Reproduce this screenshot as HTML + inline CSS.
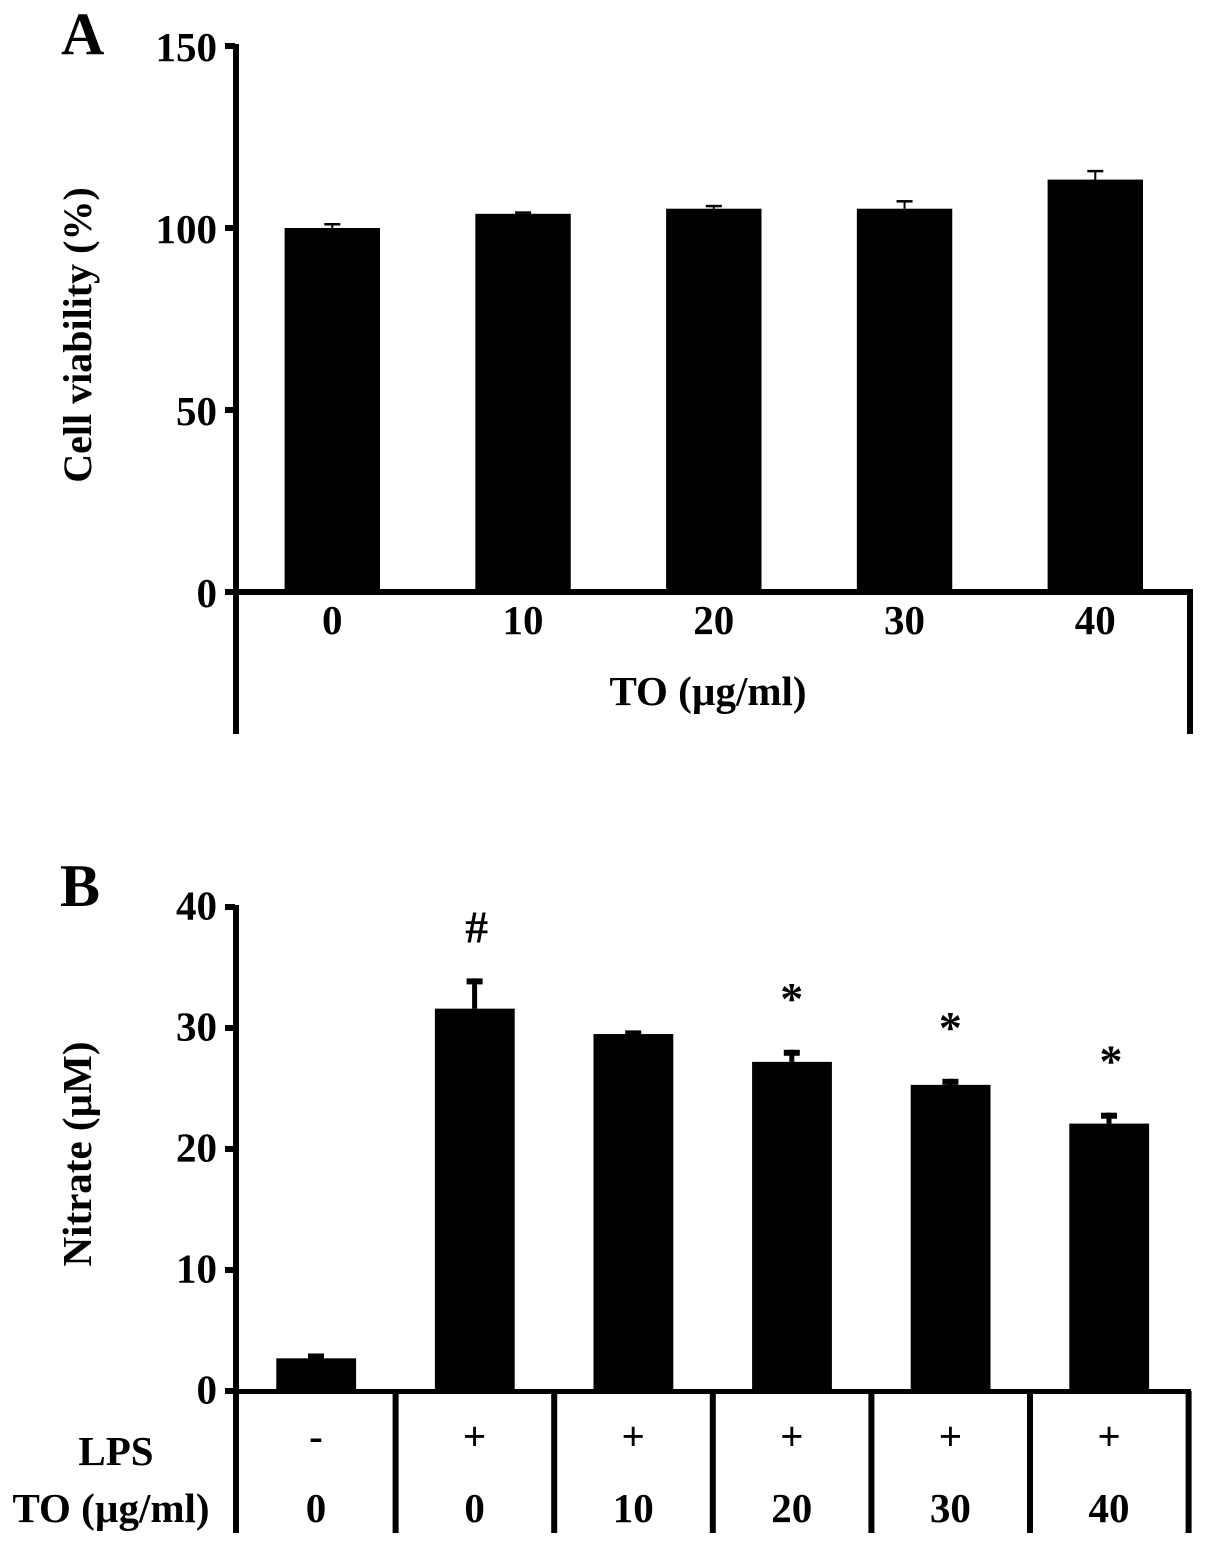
<!DOCTYPE html>
<html lang="en">
<head>
<meta charset="utf-8">
<title>Cell viability and nitrate bar charts</title>
<style>
html,body{margin:0;padding:0;background:#fff;}
svg{display:block;}
text{font-family:"Liberation Serif",serif;font-weight:bold;fill:#000;}
</style>
</head>
<body>
<svg id="figure" width="1205" height="1545" viewBox="0 0 1205 1545" xmlns="http://www.w3.org/2000/svg">
  <rect width="1205" height="1545" fill="#fff"/>
  <text x="61" y="54" font-size="60">A</text>
  <text transform="translate(91 335) rotate(-90)" text-anchor="middle" font-size="40">Cell viability (%)</text>
  <text x="708" y="705" text-anchor="middle" font-size="41">TO (µg/ml)</text>
  <text x="60" y="906" font-size="60">B</text>
  <text transform="translate(91 1154) rotate(-90)" text-anchor="middle" font-size="41">Nitrate (µM)</text>
  <text x="116" y="1465" text-anchor="middle" font-size="41">LPS</text>
  <text x="111" y="1522" text-anchor="middle" font-size="41">TO (µg/ml)</text>
</svg>
<script>
// Panel A data
const viabilityDoses = ["0", "10", "20", "30", "40"];
const viabilityValues = [100, 103.9, 105.3, 105.3, 113.3];
const viabilityErrors = [1.1, 0.4, 0.8, 2.1, 2.4];
const viabilityTicks = [0, 50, 100, 150];

// Panel B data
const nitrateLps = ["-", "+", "+", "+", "+", "+"];
const nitrateDoses = ["0", "0", "10", "20", "30", "40"];
const nitrateValues = [2.7, 31.6, 29.5, 27.2, 25.3, 22.1];
const nitrateErrors = [0.4, 2.5, 0.3, 1.0, 0.5, 0.9];
const nitrateMarks = ["", "#", "", "*", "*", "*"];
const nitrateTicks = [0, 10, 20, 30, 40];

const svg = document.getElementById('figure');
const NS = 'http://www.w3.org/2000/svg';

function rect(x, y, w, h) {
  const el = document.createElementNS(NS, 'rect');
  el.setAttribute('x', x);
  el.setAttribute('y', y);
  el.setAttribute('width', w);
  el.setAttribute('height', h);
  el.setAttribute('fill', '#000');
  svg.appendChild(el);
  return el;
}
function label(str, x, y, anchor, size) {
  const el = document.createElementNS(NS, 'text');
  el.setAttribute('x', x);
  el.setAttribute('y', y);
  el.setAttribute('text-anchor', anchor);
  el.setAttribute('font-size', size);
  el.textContent = str;
  svg.appendChild(el);
  return el;
}

// Axis functions
const yA = v => 592 - v * 3.64;
const xA = i => 332.3 + i * 190.75;
const yB = v => 1391 - v * 12.1;
const xB = i => 316 + i * 158.6;
const sepB = i => 237 + i * 158.6;

// ----- Panel A -----
viabilityValues.forEach((v, i) => {
  const cx = xA(i);
  const bar = rect(cx - 47.7, yA(v), 95.4, 592 - yA(v));
  
  
  const top = yA(v + viabilityErrors[i]);
  const stem = rect(cx - 1, top, 2, yA(v) - top);
  
  
  const cap = rect(cx - 8, top - 1, 16, 2.5);
  
  
  const t = label(viabilityDoses[i], cx, 634, 'middle', 41);
  
  
});

const axisAY = rect(233, yA(150) - 2, 6, 734 - yA(150) + 2);


const axisAX = rect(233, 589, 960, 6);


const axisAR = rect(1187, 592, 6, 142);



viabilityTicks.forEach(v => {
  const tick = rect(225, yA(v) - 3, 10, 6);
  
  
  const t = label(String(v), 217, yA(v) + 15, 'end', 41);
  
  
});

// ----- Panel B -----
nitrateValues.forEach((v, i) => {
  const cx = xB(i);
  const bar = rect(cx - 39.7, yB(v), 79.8, 1391 - yB(v));
  
  
  const top = yB(v + nitrateErrors[i]);
  const stem = rect(cx - 2.5, top, 5, yB(v) - top);
  
  
  const cap = rect(cx - 8, top, 16, 6);
  
  
  const lps = label(nitrateLps[i], cx, 1450, 'middle', 41);
  
  
  const dose = label(nitrateDoses[i], cx, 1522, 'middle', 41);
  
  
  if (nitrateMarks[i]) {
    const m = nitrateMarks[i] === '#'
      ? label('#', cx + 2, top - 36, 'middle', 46)
      : label('*', cx + (i === 5 ? 2 : 0), top - 36, 'middle', 46);
    
    
  }
});

const axisBY = rect(233, yB(40) - 2, 6, 1533 - yB(40) + 2);


const axisBX = rect(233, 1389, 958, 5);



nitrateValues.forEach((v, i) => {
  const sep = rect(sepB(i + 1) - 3, 1391, 6, 142);
  
  
});

nitrateTicks.forEach(v => {
  const tick = rect(225, yB(v) - 3, 10, 6);
  
  
  const t = label(String(v), 217, yB(v) + 12.5, 'end', 41);
  
  
});
</script>
</body>
</html>
